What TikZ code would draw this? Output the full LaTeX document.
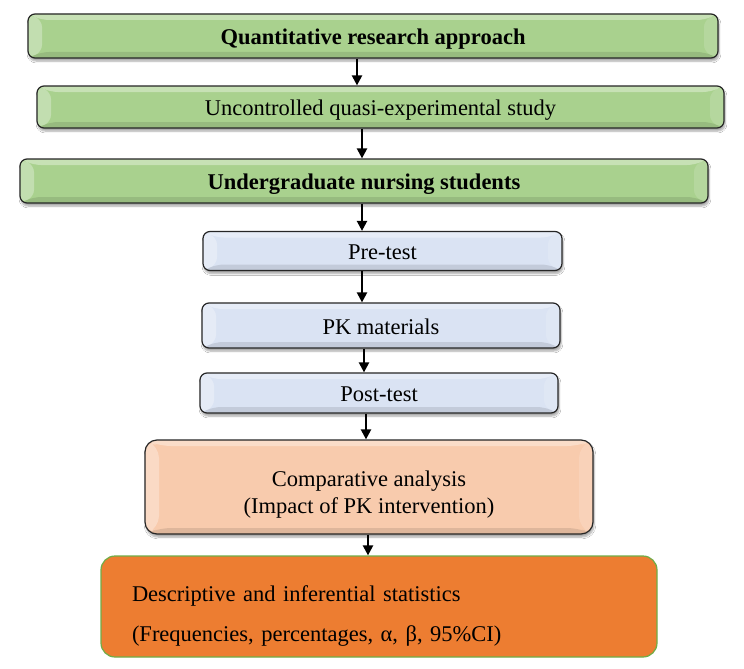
\documentclass[tikz,border=0pt]{standalone}
\usepackage{fontspec}
\setmainfont{Liberation Serif}
\usetikzlibrary{shadows.blur,arrows.meta}
\definecolor{grn}{HTML}{A9D18E}
\definecolor{blu}{HTML}{DAE3F3}
\definecolor{pch}{HTML}{F8CBAD}
\definecolor{org}{HTML}{ED7D31}
\definecolor{lgrn}{HTML}{70AD47}
\tikzset{
 bevel/.style={path picture={
  \fill[white,opacity=0.35] (path picture bounding box.north west) -- (path picture bounding box.north east) -- ([xshift=-14pt,yshift=-6pt]path picture bounding box.north east) -- ([xshift=14pt,yshift=-6pt]path picture bounding box.north west) -- cycle;
  \fill[white,opacity=0.3] (path picture bounding box.north west) -- ([xshift=14pt,yshift=-6pt]path picture bounding box.north west) -- ([xshift=14pt,yshift=6pt]path picture bounding box.south west) -- (path picture bounding box.south west) -- cycle;
  \fill[black,opacity=0.1] (path picture bounding box.south west) -- (path picture bounding box.south east) -- ([xshift=-14pt,yshift=6pt]path picture bounding box.south east) -- ([xshift=14pt,yshift=6pt]path picture bounding box.south west) -- cycle;
  \fill[white,opacity=0.15] (path picture bounding box.north east) -- ([xshift=-14pt,yshift=-6pt]path picture bounding box.north east) -- ([xshift=-14pt,yshift=6pt]path picture bounding box.south east) -- (path picture bounding box.south east) -- cycle;
 }},
 box/.style={draw=black!85, line width=1.2pt, rounded corners=7pt, inner sep=0pt, align=center,
  font=\fontsize{22.5}{27}\selectfont,
  blur shadow={shadow xshift=1pt,shadow yshift=-3pt,shadow blur steps=6,shadow opacity=35}, bevel},
 oneline/.style={text height=21pt, text depth=4pt},
 gbox/.style={box, oneline, fill=grn},
 bbox/.style={box, oneline, fill=blu},
 arr/.style={line width=2.2pt, -{Triangle[length=10pt,width=10pt]}}
}
\begin{document}
\begin{tikzpicture}[x=1pt,y=-1pt]
\useasboundingbox (0,0) rectangle (744,669);
\fill[white] (0,0) rectangle (744,669);
\node[gbox, minimum width=690pt, minimum height=44pt, font=\fontsize{22.5}{27}\selectfont\bfseries] (q) at (373,36) {Quantitative research approach};
\node[gbox, minimum width=687pt, minimum height=42pt] (u) at (380.5,107) {Uncontrolled quasi-experimental study};
\node[gbox, minimum width=688pt, minimum height=44pt, font=\fontsize{22.5}{27}\selectfont\bfseries] (n) at (364,181) {Undergraduate nursing students};
\node[bbox, minimum width=359pt, minimum height=39pt] (pre) at (382.5,251) {Pre-test};
\node[bbox, minimum width=358pt, minimum height=45pt] (pk) at (381,325.5) {PK materials};
\node[bbox, minimum width=358pt, minimum height=40pt] (post) at (379,393) {Post-test};
\node[box, fill=pch, minimum width=448pt, minimum height=94pt, rounded corners=12pt] (comp) at (369,487) {\rule{0pt}{30pt}Comparative analysis\\(Impact of PK intervention)};
\node[draw=lgrn, line width=1.2pt, fill=org, rounded corners=14pt, inner ysep=0pt, inner xsep=31pt,
  text width=494pt, align=left, minimum height=101pt, font=\fontsize{22.5}{40}\selectfont] (desc) at (379,606.5)
  {\rule{0pt}{34pt}Descriptive and inferential statistics\\(Frequencies, percentages, α, β, 95\%CI)};
\coordinate (c1) at (357,0);
\coordinate (c2) at (362,0);
\coordinate (c3) at (362,0);
\coordinate (c4) at (362,0);
\coordinate (c5) at (364,0);
\coordinate (c6) at (366,0);
\coordinate (c7) at (368,0);
\draw[arr] (q.south -| c1) -- (u.north -| c1);
\draw[arr] (u.south -| c2) -- (n.north -| c2);
\draw[arr] (n.south -| c3) -- (pre.north -| c3);
\draw[arr] (pre.south -| c4) -- (pk.north -| c4);
\draw[arr] (pk.south -| c5) -- (post.north -| c5);
\draw[arr] (post.south -| c6) -- (comp.north -| c6);
\draw[arr] (comp.south -| c7) -- (desc.north -| c7);
\end{tikzpicture}
\end{document}
